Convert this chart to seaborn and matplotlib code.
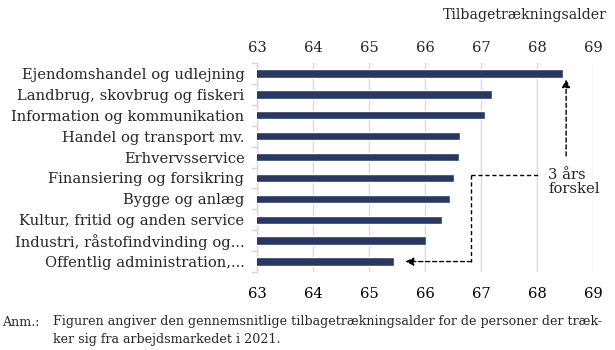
import matplotlib
matplotlib.use("Agg")
import matplotlib.pyplot as plt
import seaborn as sns
import pandas as pd
import numpy as np

categories = [
    "Ejendomshandel og udlejning",
    "Landbrug, skovbrug og fiskeri",
    "Information og kommunikation",
    "Handel og transport mv.",
    "Erhvervsservice",
    "Finansiering og forsikring",
    "Bygge og anlæg",
    "Kultur, fritid og anden service",
    "Industri, råstofindvinding og...",
    "Offentlig administration,...",
]
values = [68.46, 67.19, 67.08, 66.62, 66.60, 66.52, 66.45, 66.30, 66.01, 65.44]
x_ticks = [63, 64, 65, 66, 67, 68, 69]
axis_title = "Tilbagetrækningsalder"
note_label = "Anm.:"
note_lines = ["Figuren angiver den gennemsnitlige tilbagetrækningsalder for de personer der træk-",
              "ker sig fra arbejdsmarkedet i 2021."]
annot_text = "3 års\nforskel"

sns.set_theme(style="white")
plt.rcParams["font.family"] = ["DejaVu Serif"]

FS = 10.6
df = pd.DataFrame({"cat": categories, "val": values})

fig = plt.figure(figsize=(6.15, 3.5), dpi=100)
ax = fig.add_axes([257/615, 1-272/350, (593-257)/615, (272-63)/350])

sns.barplot(data=df, y="cat", x="val", orient="h", color="#283862",
            saturation=1, width=0.4, ax=ax, zorder=3)

ax.set_xlim(63, 69)
ax.set_ylim(9.5, -0.5)
ax.set_xticks(x_ticks)
ax.set_xticklabels([str(t) for t in x_ticks])
ax.xaxis.grid(True, color="#d9d9d9", linewidth=1, zorder=0)
ax.set_axisbelow(True)
ax.set_xlabel("")
ax.set_ylabel("")
for s in ["top", "right", "bottom"]:
    ax.spines[s].set_visible(False)
ax.spines["left"].set_color("#d9d9d9")
ax.spines["left"].set_linewidth(1)

ax.tick_params(axis="x", which="both", top=False, bottom=False, length=0,
               labeltop=False, labelbottom=True, labelsize=FS, pad=10.5, colors="#000000")
ax.tick_params(axis="y", which="major", length=0, labelsize=FS, pad=9)
ax.set_yticks(np.arange(-0.5, 10, 1), minor=True)
ax.tick_params(axis="y", which="minor", length=4, color="#d9d9d9", width=1, left=True)

top = ax.secondary_xaxis("top")
top.set_xticks(x_ticks)
top.set_xticklabels([str(t) for t in x_ticks])
top.tick_params(axis="x", length=0, labelsize=FS, pad=5.5)
top.spines["top"].set_visible(False)

# annotation: dashed arrows
dash = dict(color="black", linewidth=1, linestyle=(0, (3, 2)))
ax.annotate("", xy=(68.52, 0.28), xytext=(68.52, 3.95),
            arrowprops=dict(arrowstyle="-|>", color="black", lw=1,
                            linestyle=(0, (3, 2)), mutation_scale=12,
                            shrinkA=0, shrinkB=0))
ax.plot([66.83, 68.05], [4.84, 4.84], clip_on=False, **dash)
ax.plot([66.83, 66.83], [4.84, 9.0], clip_on=False, **dash)
ax.annotate("", xy=(65.65, 9.0), xytext=(66.83, 9.0),
            arrowprops=dict(arrowstyle="-|>", color="black", lw=1,
                            linestyle=(0, (3, 2)), mutation_scale=12,
                            shrinkA=0, shrinkB=0))
ax.text(68.2, 5.2, annot_text, fontsize=FS, ha="left", va="center", linespacing=1.05)

fig.text(607/615, 1-15/350, axis_title, fontsize=10.2, ha="right", va="center")
fig.text(2/615, 1-322/350, note_label, fontsize=9.1, ha="left", va="center")
fig.text(53/615, 1-322/350, note_lines[0], fontsize=9.1, ha="left", va="center")
fig.text(53/615, 1-339/350, note_lines[1], fontsize=9.1, ha="left", va="center")

fig.savefig("out.png", dpi=100)
